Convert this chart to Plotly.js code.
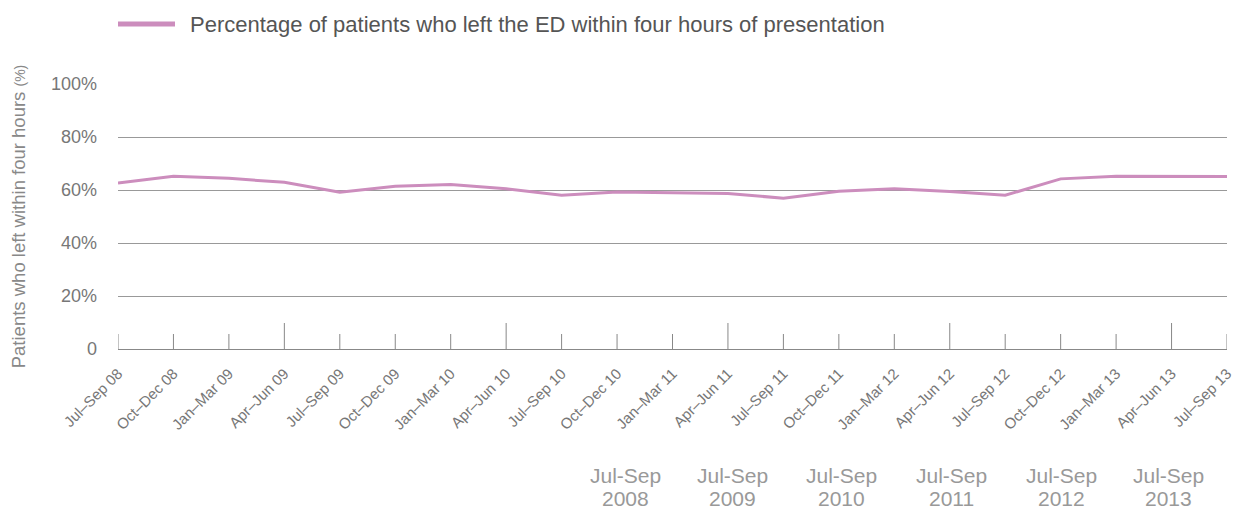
<!DOCTYPE html>
<html>
<head>
<meta charset="utf-8">
<script src="https://cdn.plot.ly/plotly-3.0.1.min.js"></script>
<style>html,body{margin:0;padding:0;background:#fff;}#chart{width:1235px;height:511px;}</style>
</head>
<body>
<div id="chart"></div>
<script>
const quarters = ["Jul\u2013Sep 08","Oct\u2013Dec 08","Jan\u2013Mar 09","Apr\u2013Jun 09","Jul\u2013Sep 09","Oct\u2013Dec 09","Jan\u2013Mar 10","Apr\u2013Jun 10","Jul\u2013Sep 10","Oct\u2013Dec 10","Jan\u2013Mar 11","Apr\u2013Jun 11","Jul\u2013Sep 11","Oct\u2013Dec 11","Jan\u2013Mar 12","Apr\u2013Jun 12","Jul\u2013Sep 12","Oct\u2013Dec 12","Jan\u2013Mar 13","Apr\u2013Jun 13","Jul\u2013Sep 13"];
const pctLeftWithin4h = [62.6,65.2,64.4,62.9,59.2,61.4,62.1,60.5,58.0,59.2,59.0,58.7,56.9,59.5,60.5,59.4,58.0,64.2,65.2,65.2,65.1];
const majorTickQuarters = ["Apr\u2013Jun 09","Apr\u2013Jun 10","Apr\u2013Jun 11","Apr\u2013Jun 12","Apr\u2013Jun 13"];
const yTickVals = [0,20,40,60,80,100];
const yTickText = ["0","20%","40%","60%","80%","100%"];
const periodLabelTop = ["Jul-Sep","Jul-Sep","Jul-Sep","Jul-Sep","Jul-Sep","Jul-Sep"];
const periodLabelYear = ["2008","2009","2010","2011","2012","2013"];
const periodLabelX = [0.4572,0.5537,0.6528,0.7520,0.8512,0.9477];
const seriesName = "Percentage of patients who left the ED within four hours of presentation";
const lineColor = "#cc8dbd";
const FONT = "Liberation Sans, Arial, sans-serif";

const shapes = [];
quarters.forEach(q => {
  const major = majorTickQuarters.includes(q);
  shapes.push({type:"line", xref:"x", yref:"y", x0:q, x1:q, ysizemode:"pixel", yanchor:0, y0:0, y1: major ? 26 : 15, line:{color:"#888", width:1}});
});
shapes.push({type:"line", xref:"paper", yref:"paper", x0:0, x1:0.0514, y0:1.2264, y1:1.2264, line:{color:lineColor, width:5}});

const annotations = [{xref:"paper", yref:"paper", x:0.0631, y:1.2264, xanchor:"left", yanchor:"middle", showarrow:false, text:seriesName, font:{size:22, color:"#555", family:FONT}}];
periodLabelTop.forEach((t,i) => {
  annotations.push({xref:"paper", yref:"paper", x:periodLabelX[i], y:-0.4755, xanchor:"center", yanchor:"middle", showarrow:false, text:t, font:{size:21, color:"#999", family:FONT}});
  annotations.push({xref:"paper", yref:"paper", x:periodLabelX[i], y:-0.5623, xanchor:"center", yanchor:"middle", showarrow:false, text:periodLabelYear[i], font:{size:21, color:"#999", family:FONT}});
});

const trace = {x:quarters, y:pctLeftWithin4h, type:"scatter", mode:"lines", name:seriesName, line:{color:lineColor, width:3}, showlegend:false, hoverinfo:"x+y"};

const layout = {
  width:1235, height:511,
  margin:{l:118, r:8, t:84, b:162},
  paper_bgcolor:"#fff", plot_bgcolor:"#fff",
  font:{family:FONT, color:"#777"},
  showlegend:false,
  xaxis:{type:"category", range:[0,20], tickangle:-45, ticks:"", ticklabelstandoff:9, showgrid:false, zeroline:false, showline:true, linecolor:"#888", linewidth:1, tickfont:{size:15, color:"#777"}, automargin:false, fixedrange:true},
  yaxis:{range:[0,100], tickvals:yTickVals, ticktext:yTickText, showgrid:true, gridcolor:"#999", gridwidth:1, zeroline:false, showline:false, ticks:"", ticklabelstandoff:20, tickfont:{size:18, color:"#777"}, automargin:false, fixedrange:true,
    title:{text:'Patients who left within four hours <span style="font-size:14px">(%)</span>', font:{size:18.5, color:"#888"}, standoff:20}},
  shapes:shapes,
  annotations:annotations
};
Plotly.newPlot("chart", [trace], layout, {displayModeBar:false, staticPlot:true});
</script>
</body>
</html>
